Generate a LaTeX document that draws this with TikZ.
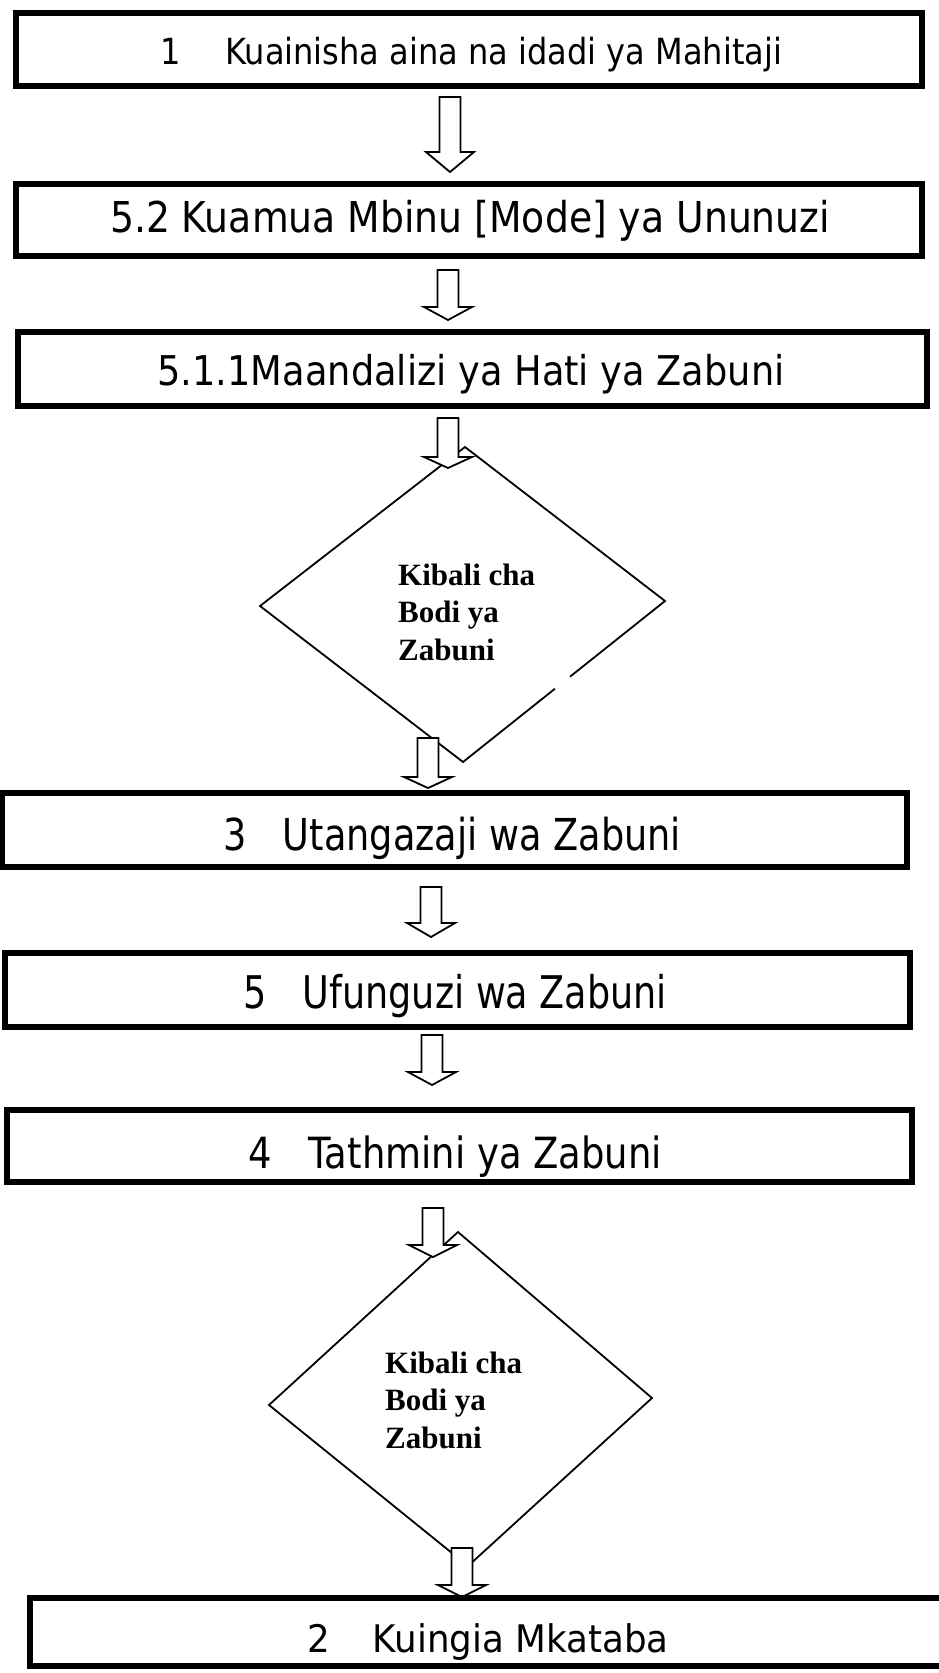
\documentclass[tikz,border=0pt]{standalone}
\usepackage{fontspec}
\setmainfont{Liberation Serif}
\newfontfamily\boxfont{DejaVu Sans}
\usetikzlibrary{calc}
\newlength\fitlen
\newcommand\fitto[2]{\settowidth\fitlen{#2}\pgfmathsetmacro\fitsx{#1/\fitlen}\scalebox{\fitsx}[1]{#2}}
\newcommand\blockarrow[3][13]{%
  \path[barrow] let \p1=(#2), \p2=(#3) in
    (\x1-10.5pt,\y1) -- (\x1+10.5pt,\y1) -- (\x1+10.5pt,\y2+#1pt) -- (\x1+24pt,\y2+#1pt)
    -- (\x1,\y2) -- (\x1-24pt,\y2+#1pt) -- (\x1-10.5pt,\y2+#1pt) -- cycle;}
\begin{document}
\begin{tikzpicture}[x=1pt,y=-1pt,
  boxnode/.style={draw, line width=6pt, inner sep=0pt, outer sep=0pt},
  boxtext/.style={anchor=base, inner sep=0pt},
  dtext/.style={anchor=west, align=left, inner sep=0pt, font=\bfseries\fontsize{31}{37.5}\selectfont},
  barrow/.style={draw, fill=white, line width=1.8pt, line join=miter},
  dline/.style={draw, line width=1.8pt, line join=miter}]
\useasboundingbox[fill=white] (0,0) rectangle (939,1673);

% diamonds
\coordinate (d1t) at (465,447);
\coordinate (d1r) at (665,601);
\coordinate (d1b) at (463,762);
\coordinate (d1l) at (260,606);
\path[dline] ($(d1r)!0.545!(d1b)$) -- (d1b) -- (d1l) -- (d1t) -- (d1r) -- ($(d1r)!0.47!(d1b)$);
\node[dtext] (q1) at (398,612) {Kibali cha\\Bodi ya\\Zabuni};

\coordinate (d2t) at (458,1232);
\coordinate (d2r) at (652,1398);
\coordinate (d2b) at (468,1566);
\coordinate (d2l) at (269,1405);
\path[dline] (d2t) -- (d2r) -- (d2b) -- (d2l) -- cycle;
\node[dtext] (q2) at (385,1400) {Kibali cha\\Bodi ya\\Zabuni};

% block arrows
\coordinate (a1s) at (450,97);   \coordinate (a1e) at (450,172);
\coordinate (a2s) at (448,270);  \coordinate (a2e) at (448,320);
\coordinate (a3s) at (448,418);  \coordinate (a3e) at (448,468);
\coordinate (a4s) at (428,738);  \coordinate (a4e) at (428,788);
\coordinate (a5s) at (431,887);  \coordinate (a5e) at (431,937);
\coordinate (a6s) at (432,1035); \coordinate (a6e) at (432,1085);
\coordinate (a7s) at (433,1208); \coordinate (a7e) at (433,1257);
\coordinate (a8s) at (462,1548); \coordinate (a8e) at (462,1597);
\blockarrow[20]{a1s}{a1e}
\blockarrow{a2s}{a2e}
\blockarrow[11]{a3s}{a3e}
\blockarrow[11]{a4s}{a4e}
\blockarrow[14]{a5s}{a5e}
\blockarrow{a6s}{a6e}
\blockarrow[12]{a7s}{a7e}
\blockarrow[12]{a8s}{a8e}

% boxes
\node[boxnode, minimum width=906pt, minimum height=73pt] (b1) at (469,49.5) {};
\node[boxnode, minimum width=906pt, minimum height=72pt] (b2) at (469,220) {};
\node[boxnode, minimum width=909pt, minimum height=74pt] (b3) at (472.5,369) {};
\node[boxnode, minimum width=905pt, minimum height=74pt] (b4) at (454.5,830) {};
\node[boxnode, minimum width=905pt, minimum height=74pt] (b5) at (457.5,990) {};
\node[boxnode, minimum width=905pt, minimum height=72pt] (b6) at (459.5,1146) {};
\node[boxnode, minimum width=930pt, minimum height=68pt] (b7) at (495,1632) {};

% box texts
\node[boxtext, font=\boxfont\fontsize{36}{43}\selectfont] (t1) at (471,64)
  {\fitto{622pt}{1\hspace{1.4em}Kuainisha aina na idadi ya Mahitaji}};
\node[boxtext, font=\boxfont\fontsize{42.5}{50}\selectfont] (t2) at (470,232)
  {\fitto{720pt}{5.2 Kuamua Mbinu [Mode] ya Ununuzi}};
\node[boxtext, font=\boxfont\fontsize{41}{49}\selectfont] (t3) at (471,385)
  {\fitto{627pt}{5.1.1Maandalizi ya Hati ya Zabuni}};
\node[boxtext, font=\boxfont\fontsize{44}{52}\selectfont] (t4) at (452,850)
  {\fitto{458pt}{3\hspace{1em}Utangazaji wa Zabuni}};
\node[boxtext, font=\boxfont\fontsize{45}{53}\selectfont] (t5) at (455,1008)
  {\fitto{424pt}{5\hspace{1em}Ufunguzi wa Zabuni}};
\node[boxtext, font=\boxfont\fontsize{43}{51}\selectfont] (t6) at (455,1168)
  {\fitto{414pt}{4\hspace{1em}Tathmini ya Zabuni}};
\node[boxtext, font=\boxfont\fontsize{38}{46}\selectfont] (t7) at (488,1652)
  {\fitto{361pt}{2\hspace{1.2em}Kuingia Mkataba}};
\end{tikzpicture}
\end{document}
